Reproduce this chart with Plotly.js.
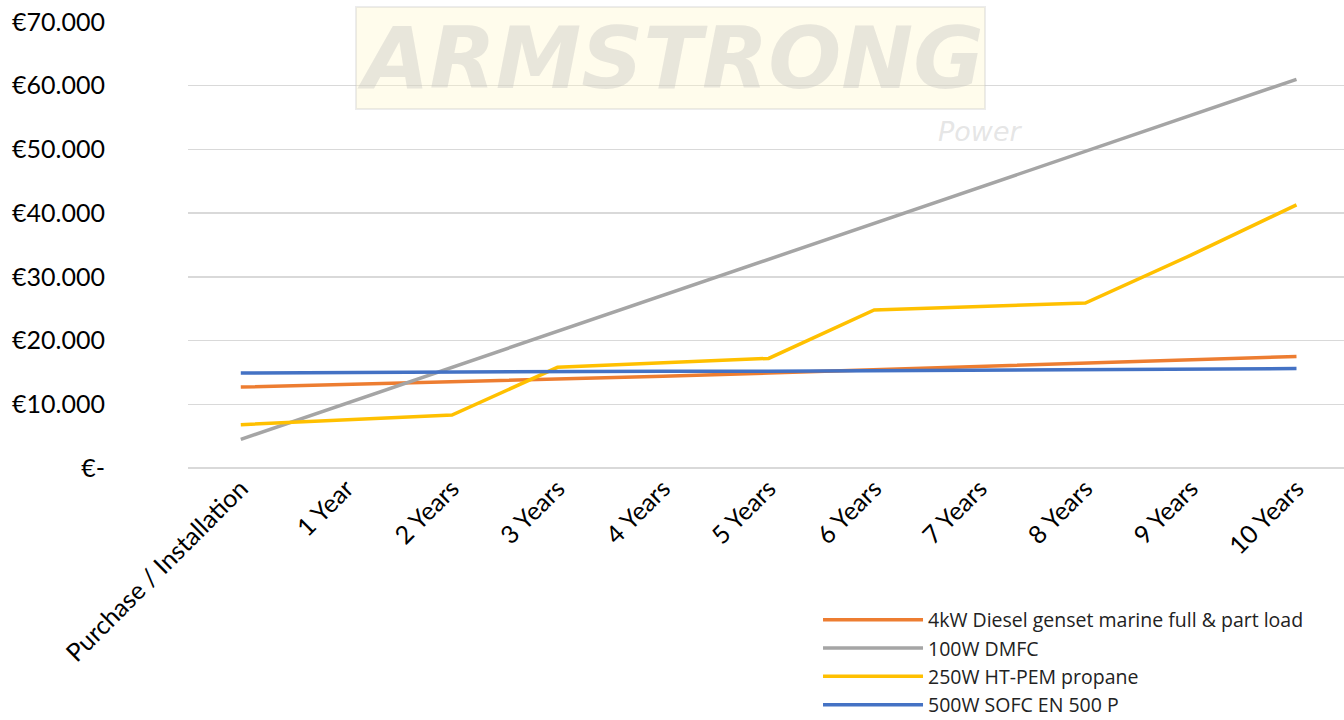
<!DOCTYPE html>
<html>
<head>
<meta charset="utf-8">
<script src="https://cdn.plot.ly/plotly-3.0.1.min.js"></script>
<style>html,body{margin:0;padding:0;background:#fff;}#chart{width:1344px;height:720px;}</style>
</head>
<body>
<div id="chart"></div>
<script>
const categories = ["Purchase / Installation","1 Year","2 Years","3 Years","4 Years","5 Years","6 Years","7 Years","8 Years","9 Years","10 Years"];
const seriesNames = ["4kW Diesel genset marine full & part load","100W DMFC","250W HT-PEM propane","500W SOFC EN 500 P"];
const diesel = [12700,13100,13500,13900,14400,14900,15400,15900,16400,17000,17500];
const dmfc   = [4500,10150,15800,21450,27100,32750,38400,44050,49700,55350,61000];
const htpem  = [6800,7500,8300,15800,16500,17200,24800,25300,25900,33400,41300];
const sofc   = [14900,15000,15000,15100,15200,15200,15300,15300,15400,15500,15600];
const yTickVals = [0,10000,20000,30000,40000,50000,60000,70000];
const yTickText = ["€-","€10.000","€20.000","€30.000","€40.000","€50.000","€60.000","€70.000"];

const colors = ["#ED7D31","#A5A5A5","#FFC000","#4472C4"];
const values = [diesel, dmfc, htpem, sofc];

const traces = values.map((v,i)=>({
  type:"scatter", mode:"lines", x:categories, y:v, name:seriesNames[i],
  line:{color:colors[i], width:3.5}, hoverinfo:"skip"
}));

const layout = {
  width:1344, height:720,
  margin:{l:188, r:0, t:22, b:252, autoexpand:false},
  paper_bgcolor:"#fff", plot_bgcolor:"#fff",
  font:{family:"Lato, 'Open Sans', sans-serif", color:"#000"},
  showlegend:true,
  legend:{x:0.545, xanchor:"left", y:-0.297, yanchor:"top",
          font:{size:19.5, color:"#222", family:"'Open Sans', Lato, sans-serif"},
          itemwidth:100, tracegroupgap:0, bgcolor:"rgba(0,0,0,0)"},
  xaxis:{type:"category", range:[-0.5,10.45], tickangle:-45, tickfont:{size:25}, automargin:false,
         showgrid:false, zeroline:false, showline:false, ticks:"", fixedrange:true},
  yaxis:{range:[0,70000], tickvals:yTickVals, ticktext:yTickText, tickfont:{size:25}, automargin:false,
         showgrid:true, gridcolor:"#d9d9d9", gridwidth:1.5, zeroline:true, zerolinecolor:"#d9d9d9",
         zerolinewidth:1.5, showline:false, ticks:"", ticklabelstandoff:82, fixedrange:true},
  annotations:[
    {xref:"paper", yref:"paper", x:0.417, y:0.919, xanchor:"center", yanchor:"middle",
     text:"<b><i>ARMSTRONG</i></b>", showarrow:false,
     font:{size:86, color:"rgba(190,190,190,0.35)", family:"'DejaVu Sans', sans-serif"},
     bgcolor:"rgba(255,245,200,0.35)", bordercolor:"rgba(200,200,200,0.35)", borderwidth:2, borderpad:0},
    {xref:"paper", yref:"paper", x:0.685, y:0.755, xanchor:"center", yanchor:"middle",
     text:"<i>Power</i>", showarrow:false,
     font:{size:27, color:"rgba(190,190,190,0.4)", family:"'DejaVu Sans', sans-serif"}}
  ]
};

Plotly.newPlot("chart", traces, layout, {displayModeBar:false, staticPlot:true});
</script>
</body>
</html>
